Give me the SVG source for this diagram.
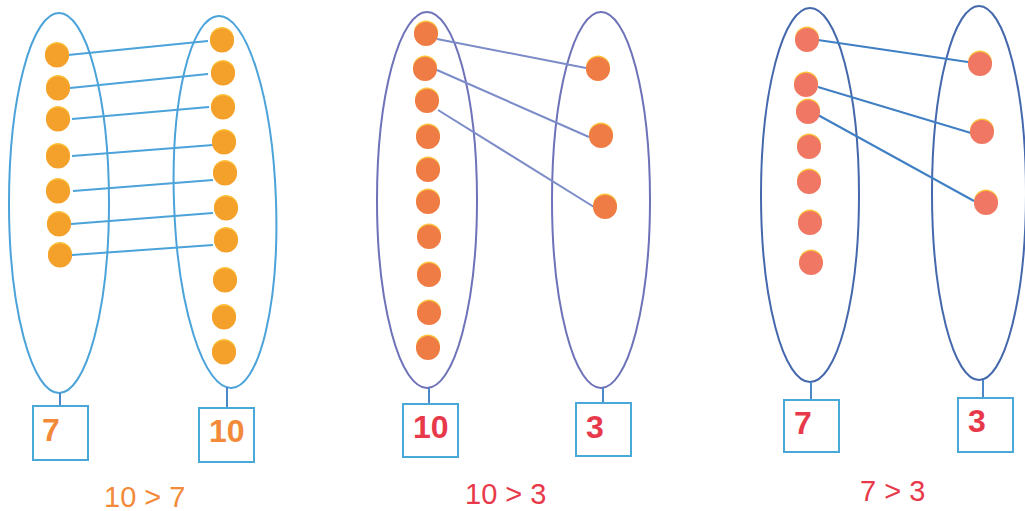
<svg xmlns="http://www.w3.org/2000/svg" width="1025" height="511" viewBox="0 0 1025 511">
<defs>
<style>
.bg{fill:#ffffff}
.e1{fill:none;stroke:#4ba3d9;stroke-width:2}
.e2{fill:none;stroke:#6e72b8;stroke-width:2}
.e3{fill:none;stroke:#4568ad;stroke-width:2}
.box{fill:#ffffff;stroke:#4aa8d8;stroke-width:2}
.stub{stroke:#4a88c8;stroke-width:2}
.l1{stroke:#4ba3d9;stroke-width:2;fill:none}
.l2{stroke:#7c8cc8;stroke-width:2;fill:none}
.l3{stroke:#3f7fc4;stroke-width:2;fill:none}
.hl{fill:#fcc23c}
.d1{fill:#f4a12c}
.d2{fill:#ef7b45}
.d3{fill:#ef7763}
.num{font-family:"Liberation Sans",Arial,sans-serif;font-weight:bold;font-size:32px}
.cmp{font-family:"Liberation Sans",Arial,sans-serif;font-size:29px}
.o{fill:#f28a3a}
.r{fill:#e8394a}
</style>
</defs>
<rect class="bg" x="0" y="0" width="1025" height="511"/>

<!-- Panel 1 -->
<g id="p1-left">
<ellipse class="e1" cx="59" cy="203" rx="50" ry="190"/>
<line class="stub" x1="60" y1="393" x2="60" y2="406"/>
<rect class="box" x="33" y="406" width="55" height="54"/>
<text class="num o" x="42" y="441">7</text>
</g>
<g id="p1-right">
<ellipse class="e1" cx="225" cy="202" rx="51" ry="186" transform="rotate(-2 225 202)"/>
<line class="stub" x1="227" y1="387" x2="227" y2="408"/>
<rect class="box" x="199" y="408" width="55" height="54"/>
<text class="num o" x="209" y="442">10</text>
</g>
<g id="p1-text"><text class="cmp o" x="104" y="507">10 &gt; 7</text></g>

<!-- Panel 2 -->
<g id="p2-left">
<ellipse class="e2" cx="427" cy="200" rx="50" ry="188"/>
<line class="stub" x1="429" y1="388" x2="429" y2="404"/>
<rect class="box" x="403" y="404" width="55" height="53"/>
<text class="num r" x="413" y="438">10</text>
</g>
<g id="p2-right">
<ellipse class="e2" cx="601" cy="200" rx="49" ry="188"/>
<line class="stub" x1="603" y1="388" x2="603" y2="403"/>
<rect class="box" x="576" y="403" width="55" height="53"/>
<text class="num r" x="586" y="438">3</text>
</g>
<g id="p2-text"><text class="cmp r" x="465" y="504">10 &gt; 3</text></g>

<!-- Panel 3 -->
<g id="p3-left">
<ellipse class="e3" cx="810" cy="195" rx="49" ry="187"/>
<line class="stub" x1="811" y1="382" x2="811" y2="400"/>
<rect class="box" x="784" y="400" width="55" height="52"/>
<text class="num r" x="794" y="434">7</text>
</g>
<g id="p3-right">
<ellipse class="e3" cx="979" cy="193" rx="47" ry="187"/>
<line class="stub" x1="983" y1="380" x2="983" y2="398"/>
<rect class="box" x="958" y="398" width="55" height="54"/>
<text class="num r" x="968" y="432">3</text>
</g>
<g id="p3-text"><text class="cmp r" x="860" y="501">7 &gt; 3</text></g>

<!-- connectors -->
<g id="connectors">
<line class="l1" x1="68" y1="55" x2="208" y2="41"/>
<line class="l1" x1="70" y1="88" x2="208" y2="74"/>
<line class="l1" x1="72" y1="119" x2="209" y2="107"/>
<line class="l1" x1="72" y1="156" x2="213" y2="145"/>
<line class="l1" x1="73" y1="191" x2="213" y2="180"/>
<line class="l1" x1="71" y1="224" x2="213" y2="213"/>
<line class="l1" x1="72" y1="255" x2="213" y2="245"/>
<line class="l2" x1="437" y1="39" x2="586" y2="68"/>
<line class="l2" x1="437" y1="70" x2="589" y2="137"/>
<line class="l2" x1="438" y1="110" x2="594" y2="207"/>
<line class="l3" x1="818" y1="40" x2="968" y2="62"/>
<line class="l3" x1="818" y1="87" x2="971" y2="133"/>
<line class="l3" x1="818" y1="115" x2="974" y2="201"/>
</g>

<!-- dots -->
<g id="dots-p1-left">
<circle class="hl" cx="57" cy="54" r="12"/><circle class="d1" cx="57" cy="55.5" r="12"/>
<circle class="hl" cx="58" cy="87" r="12"/><circle class="d1" cx="58" cy="88.5" r="12"/>
<circle class="hl" cx="58" cy="118" r="12"/><circle class="d1" cx="58" cy="119.5" r="12"/>
<circle class="hl" cx="58" cy="155" r="12"/><circle class="d1" cx="58" cy="156.5" r="12"/>
<circle class="hl" cx="58" cy="190" r="12"/><circle class="d1" cx="58" cy="191.5" r="12"/>
<circle class="hl" cx="59" cy="223" r="12"/><circle class="d1" cx="59" cy="224.5" r="12"/>
<circle class="hl" cx="60" cy="254" r="12"/><circle class="d1" cx="60" cy="255.5" r="12"/>
</g>
<g id="dots-p1-right">
<circle class="hl" cx="222" cy="39" r="12"/><circle class="d1" cx="222" cy="40.5" r="12"/>
<circle class="hl" cx="223" cy="72" r="12"/><circle class="d1" cx="223" cy="73.5" r="12"/>
<circle class="hl" cx="223" cy="106" r="12"/><circle class="d1" cx="223" cy="107.5" r="12"/>
<circle class="hl" cx="224" cy="141" r="12"/><circle class="d1" cx="224" cy="142.5" r="12"/>
<circle class="hl" cx="225" cy="172" r="12"/><circle class="d1" cx="225" cy="173.5" r="12"/>
<circle class="hl" cx="226" cy="207" r="12"/><circle class="d1" cx="226" cy="208.5" r="12"/>
<circle class="hl" cx="226" cy="239" r="12"/><circle class="d1" cx="226" cy="240.5" r="12"/>
<circle class="hl" cx="225" cy="279" r="12"/><circle class="d1" cx="225" cy="280.5" r="12"/>
<circle class="hl" cx="224" cy="316" r="12"/><circle class="d1" cx="224" cy="317.5" r="12"/>
<circle class="hl" cx="224" cy="351" r="12"/><circle class="d1" cx="224" cy="352.5" r="12"/>
</g>
<g id="dots-p2-left">
<circle class="hl" cx="426" cy="32.5" r="12"/><circle class="d2" cx="426" cy="34" r="12"/>
<circle class="hl" cx="425" cy="67.5" r="12"/><circle class="d2" cx="425" cy="69" r="12"/>
<circle class="hl" cx="427" cy="99.5" r="12"/><circle class="d2" cx="427" cy="101" r="12"/>
<circle class="hl" cx="428" cy="135.5" r="12"/><circle class="d2" cx="428" cy="137" r="12"/>
<circle class="hl" cx="428" cy="168.5" r="12"/><circle class="d2" cx="428" cy="170" r="12"/>
<circle class="hl" cx="428" cy="200.5" r="12"/><circle class="d2" cx="428" cy="202" r="12"/>
<circle class="hl" cx="429" cy="235.5" r="12"/><circle class="d2" cx="429" cy="237" r="12"/>
<circle class="hl" cx="429" cy="273.5" r="12"/><circle class="d2" cx="429" cy="275" r="12"/>
<circle class="hl" cx="429" cy="311.5" r="12"/><circle class="d2" cx="429" cy="313" r="12"/>
<circle class="hl" cx="428" cy="346.5" r="12"/><circle class="d2" cx="428" cy="348" r="12"/>
</g>
<g id="dots-p2-right">
<circle class="hl" cx="598" cy="67.5" r="12"/><circle class="d2" cx="598" cy="69" r="12"/>
<circle class="hl" cx="601" cy="134.5" r="12"/><circle class="d2" cx="601" cy="136" r="12"/>
<circle class="hl" cx="605" cy="205.5" r="12"/><circle class="d2" cx="605" cy="207" r="12"/>
</g>
<g id="dots-p3-left">
<circle class="hl" cx="807" cy="38.5" r="12"/><circle class="d3" cx="807" cy="40" r="12"/>
<circle class="hl" cx="806" cy="83.5" r="12"/><circle class="d3" cx="806" cy="85" r="12"/>
<circle class="hl" cx="808" cy="110.5" r="12"/><circle class="d3" cx="808" cy="112" r="12"/>
<circle class="hl" cx="809" cy="145.5" r="12"/><circle class="d3" cx="809" cy="147" r="12"/>
<circle class="hl" cx="809" cy="180.5" r="12"/><circle class="d3" cx="809" cy="182" r="12"/>
<circle class="hl" cx="810" cy="221.5" r="12"/><circle class="d3" cx="810" cy="223" r="12"/>
<circle class="hl" cx="811" cy="261.5" r="12"/><circle class="d3" cx="811" cy="263" r="12"/>
</g>
<g id="dots-p3-right">
<circle class="hl" cx="980" cy="62.5" r="12"/><circle class="d3" cx="980" cy="64" r="12"/>
<circle class="hl" cx="982" cy="130.5" r="12"/><circle class="d3" cx="982" cy="132" r="12"/>
<circle class="hl" cx="986" cy="201.5" r="12"/><circle class="d3" cx="986" cy="203" r="12"/>
</g>
</svg>
